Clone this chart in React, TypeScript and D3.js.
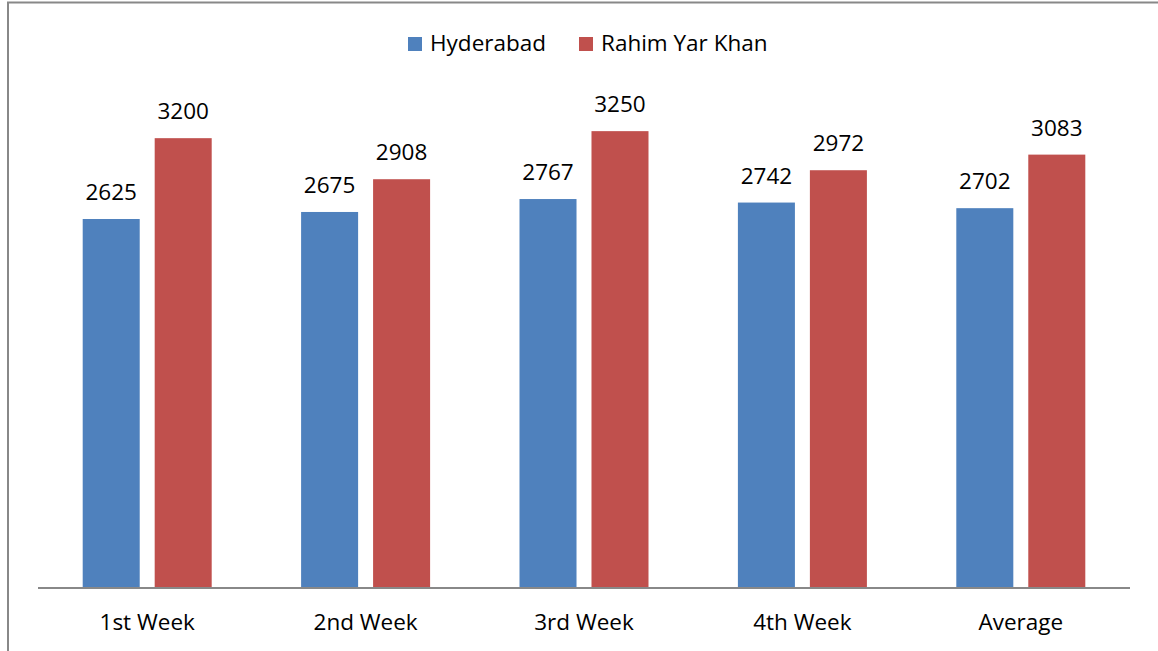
import React from 'react';
import * as d3 from 'd3';

const categories = ['1st Week', '2nd Week', '3rd Week', '4th Week', 'Average'];
const seriesNames = ['Hyderabad', 'Rahim Yar Khan'];
const hyderabad = [2625, 2675, 2767, 2742, 2702];
const rahimYarKhan = [3200, 2908, 3250, 2972, 3083];
const colors = ['#4F81BD', '#C0504D'];

const width = 1158;
const height = 651;
const plot = { left: 38, right: 1130, top: 96, bottom: 588 };
const font = "'Open Sans', 'Liberation Sans', sans-serif";

const App: React.FC = () => {
  const values = [hyderabad, rahimYarKhan];

  const x0 = d3.scaleBand<string>()
    .domain(categories)
    .range([plot.left, plot.right])
    .padding(0);

  // two bars of ~57px with a ~15px gap, centred in each category band
  const groupPad = (x0.bandwidth() - 129) / 2;
  const x1 = d3.scaleBand<string>()
    .domain(seriesNames)
    .range([groupPad, x0.bandwidth() - groupPad])
    .paddingInner(0.208)
    .paddingOuter(0);

  const y = d3.scaleLinear().domain([0, 3500]).range([plot.bottom, plot.top]);

  const legendItems = [
    { name: seriesNames[0], x: 408 },
    { name: seriesNames[1], x: 579 },
  ];

  return (
    <svg
      width={width}
      height={height}
      style={{ position: 'absolute', left: 0, top: 0, background: '#fff' }}
      fontFamily={font}
    >
      {/* chart frame */}
      <rect x={8} y={2.5} width={width + 10} height={height + 10} fill="white" stroke="#888" strokeWidth={2} />

      {/* legend */}
      <g>
        {legendItems.map((item, i) => (
          <g key={item.name}>
            <rect x={item.x} y={37} width={14} height={14} fill={colors[i]} />
            <text x={item.x + 22} y={42.5} dominantBaseline="central" fontSize={22.5} fill="#000">
              {item.name}
            </text>
          </g>
        ))}
      </g>

      {/* bars */}
      {categories.map((cat, ci) => (
        <g key={cat} transform={`translate(${x0(cat)},0)`}>
          {seriesNames.map((s, si) => {
            const v = values[si][ci];
            const bx = x1(s)!;
            return (
              <g key={s}>
                <rect
                  x={bx}
                  y={y(v)}
                  width={x1.bandwidth()}
                  height={y(0) - y(v)}
                  fill={colors[si]}
                />
                <text
                  x={bx + x1.bandwidth() / 2}
                  y={y(v) - 19}
                  textAnchor="middle"
                  fontSize={22.5}
                  fill="#000"
                >
                  {v}
                </text>
              </g>
            );
          })}
          <text
            x={x0.bandwidth() / 2}
            y={630}
            textAnchor="middle"
            fontSize={22.5}
            fill="#000"
          >
            {cat}
          </text>
        </g>
      ))}

      {/* category axis */}
      <line x1={plot.left} x2={plot.right} y1={y(0)} y2={y(0)} stroke="#888" strokeWidth={2} />
    </svg>
  );
};

export default App;
